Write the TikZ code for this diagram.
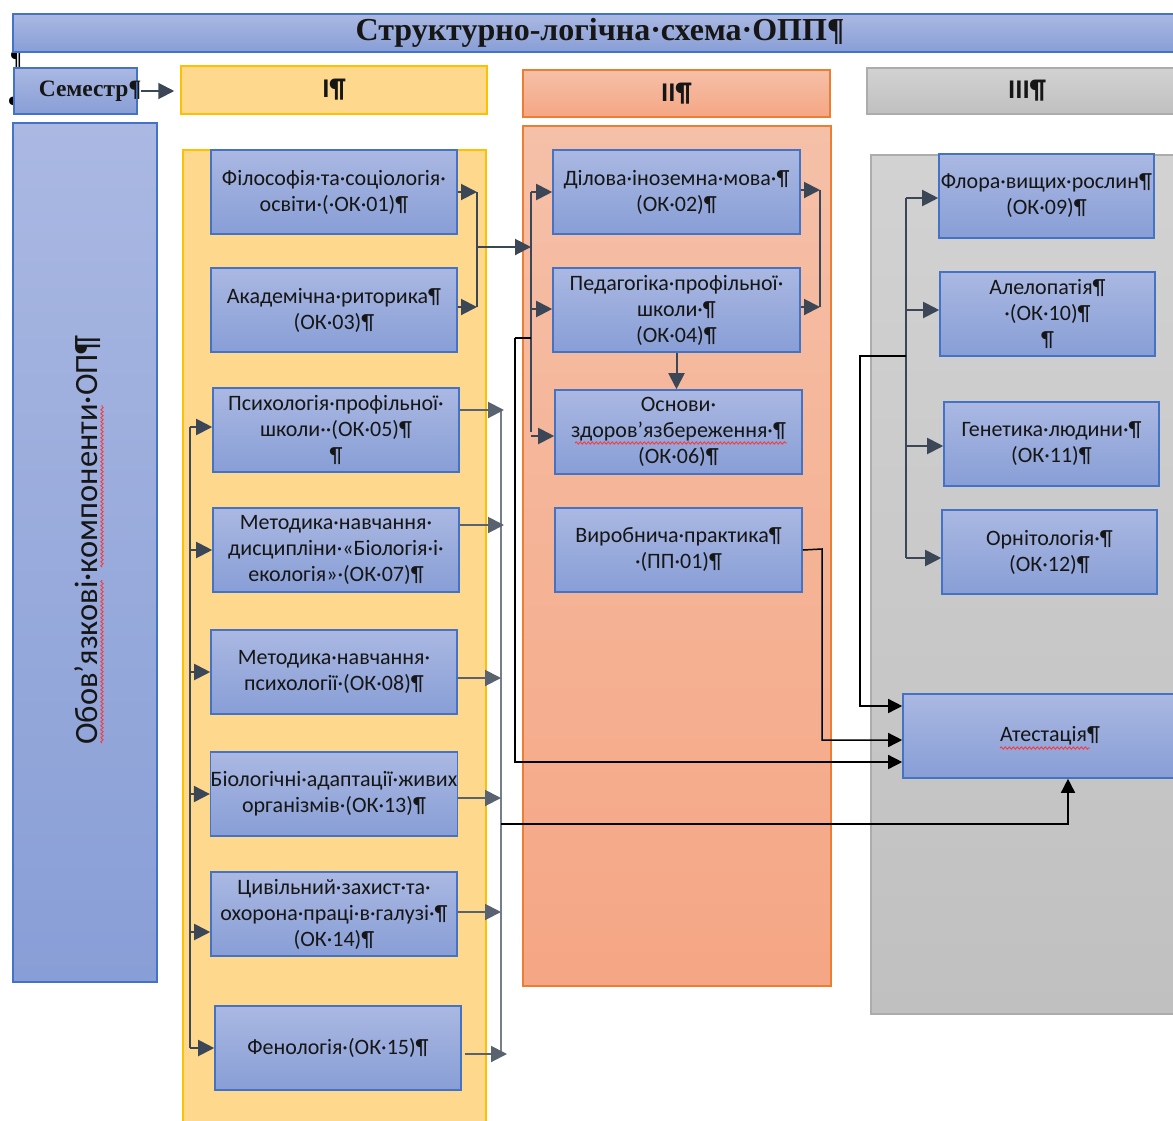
\documentclass[tikz,border=0pt]{standalone}
\usepackage{fontspec}
\setmainfont{Carlito}
\newfontfamily\serifbold{Liberation Serif}
\usetikzlibrary{arrows.meta,decorations.pathmorphing}
\definecolor{boxtop}{RGB}{170,184,226}
\definecolor{boxbot}{RGB}{136,158,214}
\definecolor{boxline}{RGB}{68,114,196}
\definecolor{yelfill}{RGB}{254,216,140}
\definecolor{yelline}{RGB}{255,192,0}
\definecolor{saltop}{RGB}{245,192,168}
\definecolor{salbot}{RGB}{245,166,132}
\definecolor{salline}{RGB}{237,125,49}
\definecolor{graytop}{RGB}{210,210,210}
\definecolor{graybot}{RGB}{192,192,192}
\definecolor{grayline}{RGB}{172,172,172}
\definecolor{conn}{RGB}{59,71,86}
\definecolor{txt}{RGB}{22,22,22}
\tikzset{
  bluebox/.style={draw=boxline, line width=1.6pt, top color=boxtop, bottom color=boxbot,
    align=center, text=txt, inner sep=0pt, font=\fontsize{22}{26}\selectfont},
  subj/.style={bluebox, minimum width=246pt, minimum height=84pt},
  subjc/.style={bluebox, minimum width=215pt, minimum height=84pt},
  darr/.style={draw=conn, line width=2pt, -{Triangle[length=16pt,width=16pt]}},
  dline/.style={draw=conn, line width=2pt},
  garr/.style={draw=conn!85!white, line width=2pt, -{Triangle[length=16pt,width=16pt]}},
  gline/.style={draw=conn!70!white, line width=2pt},
  barr/.style={draw=black, line width=1.5pt, -{Triangle[length=14pt,width=14pt]}},
  bline/.style={draw=black, line width=1.5pt},
  wavy/.style={draw=red!80!white, line width=0.8pt, decorate,
    decoration={snake, segment length=4pt, amplitude=1.2pt}},
  hdr/.style={text=txt, font=\fontsize{27}{30}\selectfont\bfseries}
}
\begin{document}
\begin{tikzpicture}[x=1pt,y=-1pt]
\clip (0,0) rectangle (1173,1120);
\fill[white] (0,0) rectangle (1173,1120);

% background columns
\draw[yelline, line width=1.5pt, fill=yelfill] (183,150) rectangle (486,1135);
\draw[salline, line width=1.5pt, top color=saltop, bottom color=salbot] (523,126) rectangle (831,986);
\draw[grayline, line width=1.5pt, top color=graytop, bottom color=graybot] (871,155) rectangle (1190,1014);

% stray paragraph marks
\node[font=\serifbold\bfseries\fontsize{22}{22}\selectfont, text=black] (pm1) at (16,60) {¶};
\node[font=\serifbold\bfseries\fontsize{22}{22}\selectfont, text=black] (pm2) at (14,106) {¶};

% title
\node[bluebox, minimum width=1174pt, minimum height=38pt, font=\serifbold\bfseries\fontsize{32}{34}\selectfont] (title) at (600,33) {Структурно-логічна·схема·ОПП¶};

% semester row
\node[bluebox, minimum width=123pt, minimum height=46pt, font=\serifbold\bfseries\fontsize{23.5}{26}\selectfont] (sem) at (75.5,91) {\makebox[0pt][c]{\hspace*{29pt}Семестр¶}};
\node[draw=yelline, line width=1.5pt, fill=yelfill, minimum width=306pt, minimum height=48pt, hdr] (h1) at (334,90) {I¶};
\node[draw=salline, line width=1.5pt, top color=saltop, bottom color=salbot, minimum width=307pt, minimum height=47pt, hdr] (h2) at (676.5,93.5) {II¶};
\node[draw=grayline, line width=1.5pt, top color=graytop, bottom color=graybot, minimum width=320pt, minimum height=46pt, hdr] (h3) at (1027,91) {III¶};
\draw[darr] ([xshift=3pt]sem.east) -- ([xshift=-6pt]sem.east -| h1.west);

% left column
\node[bluebox, minimum width=144pt, minimum height=859pt] (oblig) at (85,552.5) {};
\node[rotate=90, text=txt, font=\fontsize{32.5}{34}\selectfont] (obtext) at (88,540) {Обов'язкові·компоненти·ОП¶};
\draw[wavy] (102,743) -- (102,580);
\draw[wavy] (102,567) -- (102,405);

% semester I subjects
\node[subj] (ok01) at (334,192) {Філософія·та·соціологія·\\освіти·(·ОК·01)¶};
\node[subj] (ok03) at (334,310) {Академічна·риторика¶\\(ОК·03)¶};
\node[subj] (ok05) at (336,430) {Психологія·профільної·\\школи··(ОК·05)¶\\¶};
\node[subj] (ok07) at (336,550) {Методика·навчання·\\дисципліни·«Біологія·і·\\екологія»·(ОК·07)¶};
\node[subj] (ok08) at (334,672) {Методика·навчання·\\психології·(ОК·08)¶};
\node[subj] (ok13) at (334,794) {Біологічні·адаптації·живих\\організмів·(ОК·13)¶};
\node[subj] (ok14) at (334,914) {Цивільний·захист·та·\\охорона·праці·в·галузі·¶\\(ОК·14)¶};
\node[subj] (ok15) at (338,1048) {Фенологія·(ОК·15)¶};

% semester II subjects
\node[subj, minimum width=247pt] (ok02) at (676.5,192) {Ділова·іноземна·мова·¶\\(ОК·02)¶};
\node[subj, minimum width=247pt] (ok04) at (676.5,310) {Педагогіка·профільної·\\школи·¶\\(ОК·04)¶};
\node[subj, minimum width=247pt] (ok06) at (678.5,432) {Основи·\\здоров’язбереження·¶\\(ОК·06)¶};
\node[subj, minimum width=247pt] (pp01) at (678.5,550) {Виробнича·практика¶\\·(ПП·01)¶};
\draw[wavy] (575,443) -- (787,443);

% semester III subjects
\node[subjc] (ok09) at (1046.5,196) {Флора·вищих·рослин¶\\(ОК·09)¶};
\node[subjc] (ok10) at (1047.5,314) {Алелопатія¶\\·(ОК·10)¶\\¶};
\node[subjc] (ok11) at (1051.5,444) {Генетика·людини·¶\\(ОК·11)¶};
\node[subjc] (ok12) at (1049.5,552) {Орнітологія·¶\\(ОК·12)¶};
\node[bluebox, minimum width=294pt, minimum height=84pt] (att) at (1050,736) {Атестація¶};
\draw[wavy] (1000,748) -- (1090,748);

% bus coordinates
\coordinate (busA) at (477,247);
\coordinate (busB) at (531,247);
\coordinate (busC) at (820,250);
\coordinate (busL) at (190,700);
\coordinate (busR) at (501,824);
\coordinate (busD) at (906,356);
\coordinate (blk1) at (515,338);
\coordinate (blk2) at (822,549);
\coordinate (blk3) at (860,356);
\coordinate (attin) at (1068,824);

% I -> II bracket
\draw[darr] (ok01.east) -- (ok01.east -| busA);
\draw[darr] ([yshift=3pt]ok03.east) -- ([yshift=3pt]ok03.east -| busA);
\draw[dline] (ok01.east -| busA) -- ([yshift=3pt]ok03.east -| busA);
\draw[darr] (busA) -- (busB);
\draw[dline] (busB |- ok02.west) -- (busB |- ok06.west);
\draw[darr] (busB |- ok02.west) -- (ok02.west);
\draw[darr] ([yshift=1pt]busB |- ok04.west) -- ([yshift=1pt]ok04.west);
\draw[darr] ([yshift=-4pt]busB |- ok06.west) -- ([yshift=-4pt]ok06.west);

% II right bracket
\draw[darr] ([yshift=2pt]ok02.east) -- ([yshift=2pt]ok02.east -| busC);
\draw[darr] ([yshift=3pt]ok04.east) -- ([yshift=3pt]ok04.east -| busC);
\draw[dline] ([yshift=2pt]ok02.east -| busC) -- ([yshift=3pt]ok04.east -| busC);
\draw[darr] (ok04.south) -- (ok04.south |- ok06.north);

% I left bus
\draw[dline] ([yshift=3pt]busL |- ok05.west) -- (busL |- ok15.west);
\draw[darr] ([yshift=3pt]busL |- ok05.west) -- ([yshift=3pt]ok05.west);
\draw[darr] (busL |- ok07.west) -- (ok07.west);
\draw[darr] (busL |- ok08.west) -- (ok08.west);
\draw[darr] (busL |- ok13.west) -- (ok13.west);
\draw[darr] ([yshift=-18pt]busL |- ok14.west) -- ([yshift=-18pt]ok14.west);
\draw[darr] (busL |- ok15.west) -- (ok15.west);

% I right bus
\draw[gline] ([yshift=20pt]busR |- ok05.east) -- ([yshift=-6pt]busR |- ok15.east);
\draw[garr] ([yshift=20pt]ok05.east) -- ([yshift=20pt,xshift=3pt]busR |- ok05.east);
\draw[garr] ([yshift=25pt]ok07.east) -- ([yshift=25pt,xshift=3pt]busR |- ok07.east);
\draw[garr] ([yshift=-6pt]ok08.east) -- ([yshift=-6pt]busR |- ok08.east);
\draw[garr] ([yshift=-4pt]ok13.east) -- ([yshift=-4pt]busR |- ok13.east);
\draw[garr] ([yshift=2pt]ok14.east) -- ([yshift=2pt]busR |- ok14.east);
\draw[garr] ([yshift=-6pt,xshift=3pt]ok15.east) -- ([yshift=-6pt,xshift=6pt]busR |- ok15.east);
\draw[barr] (busR) -- (attin) -- (attin |- att.south);

% III bus
\draw[dline] ([yshift=-2pt]busD |- ok09.west) -- ([yshift=-6pt]busD |- ok12.west);
\draw[darr] ([yshift=-2pt]busD |- ok09.west) -- ([yshift=-2pt]ok09.west);
\draw[darr] ([yshift=4pt]busD |- ok10.west) -- ([yshift=4pt]ok10.west);
\draw[darr] ([yshift=-2pt]busD |- ok11.west) -- ([yshift=-2pt]ok11.west);
\draw[darr] ([yshift=-6pt]busD |- ok12.west) -- ([yshift=-6pt]ok12.west);

% black connectors to attestation
\draw[bline] (busB |- blk1) -- (blk1);
\draw[barr] (blk1) -- ([yshift=-26pt]blk1 |- att.west) -- ([yshift=-26pt]att.west);
\draw[barr] (pp01.east) -- (blk2) -- ([yshift=-4pt]blk2 |- att.west) -- ([yshift=-4pt]att.west);
\draw[barr] (busD) -- (blk3) -- ([yshift=30pt]blk3 |- att.west) -- ([yshift=30pt]att.west);
\end{tikzpicture}
\end{document}
